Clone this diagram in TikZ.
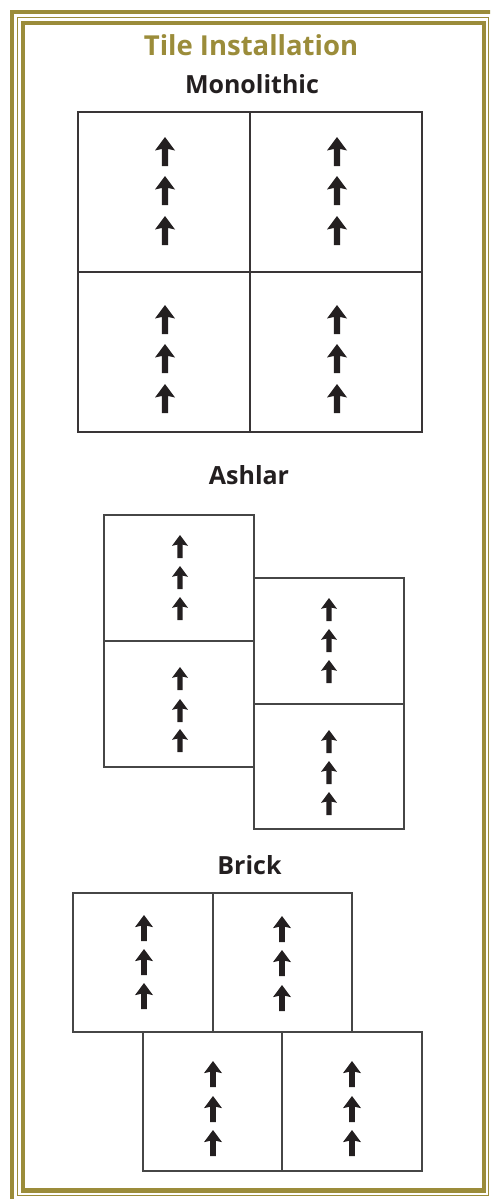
\documentclass[tikz,border=0pt]{standalone}
\usepackage{fontspec}
\setmainfont{Open Sans}
\definecolor{olivebr}{RGB}{155,140,58}
\definecolor{inkdark}{RGB}{35,31,32}
\definecolor{tileline}{RGB}{70,70,70}
\tikzset{
  band/.style={draw=olivebr,line width=4.2pt},
  thinband/.style={draw=olivebr,line width=1.3pt},
  tile/.style={draw=tileline,line width=1.3pt},
  monotile/.style={draw=inkdark!90,line width=1.5pt},
  titletext/.style={text=olivebr,font=\bfseries\fontsize{27.5}{30}\selectfont,anchor=base,inner sep=0pt},
  subtext/.style={text=inkdark,font=\bfseries\fontsize{25}{28}\selectfont,anchor=base,inner sep=0pt},
  uparr/.pic={\fill[inkdark] (0,0) -- (10,13.5) -- (3.2,12) -- (3.2,29) -- (-3.2,29) -- (-3.2,12) -- (-10,13.5) -- cycle;}
}
\begin{document}
\begin{tikzpicture}[x=1pt,y=-1pt]
\useasboundingbox (0,0) rectangle (490,1199);
\begin{scope}
\clip (0,0) rectangle (490,1199);
\draw[band] (12,12) rectangle (494,1201);
\draw[thinband] (17.5,17.5) rectangle (488.5,1195.5);
\draw[band] (23,23) rectangle (484,1190.5);
\end{scope}
% titles
\node[titletext] (title) at (251,56) {Tile Installation};
\node[subtext] (mono) at (252,93) {Monolithic};
\node[subtext] (ashlar) at (249,484) {Ashlar};
\node[subtext] (brick) at (249.5,874) {Brick};
% Monolithic
\draw[monotile] (78,112) rectangle (422,432);
\draw[monotile] (250,112) -- (250,432);
\draw[monotile] (78,272) -- (422,272);
\foreach \cx in {165,337}{
  \foreach \t in {137,176,216,305,344,384}{
    \pic at (\cx,\t) {uparr};
  }
}
% Ashlar
\draw[tile] (104,515) rectangle (254,767);
\draw[tile] (104,641) -- (254,641);
\draw[tile] (254,578) rectangle (404,829);
\draw[tile] (254,704) -- (404,704);
\foreach \t in {535,566,597,667,699,729}{\pic[scale=0.8] at (180,\t) {uparr};}
\foreach \t in {598,629,660,730,761,792}{\pic[scale=0.8] at (329,\t) {uparr};}
% Brick
\draw[tile] (73,893) rectangle (352,1032);
\draw[tile] (213,893) -- (213,1032);
\draw[tile] (143,1032) rectangle (422,1171);
\draw[tile] (282,1032) -- (282,1171);
\foreach \t in {915,949,983}{\pic[scale=0.9] at (144,\t) {uparr};}
\foreach \t in {916,950,985}{\pic[scale=0.9] at (282,\t) {uparr};}
\foreach \t in {1061,1096,1130}{
  \pic[scale=0.9] at (213,\t) {uparr};
  \pic[scale=0.9] at (352,\t) {uparr};
}
\end{tikzpicture}
\end{document}
